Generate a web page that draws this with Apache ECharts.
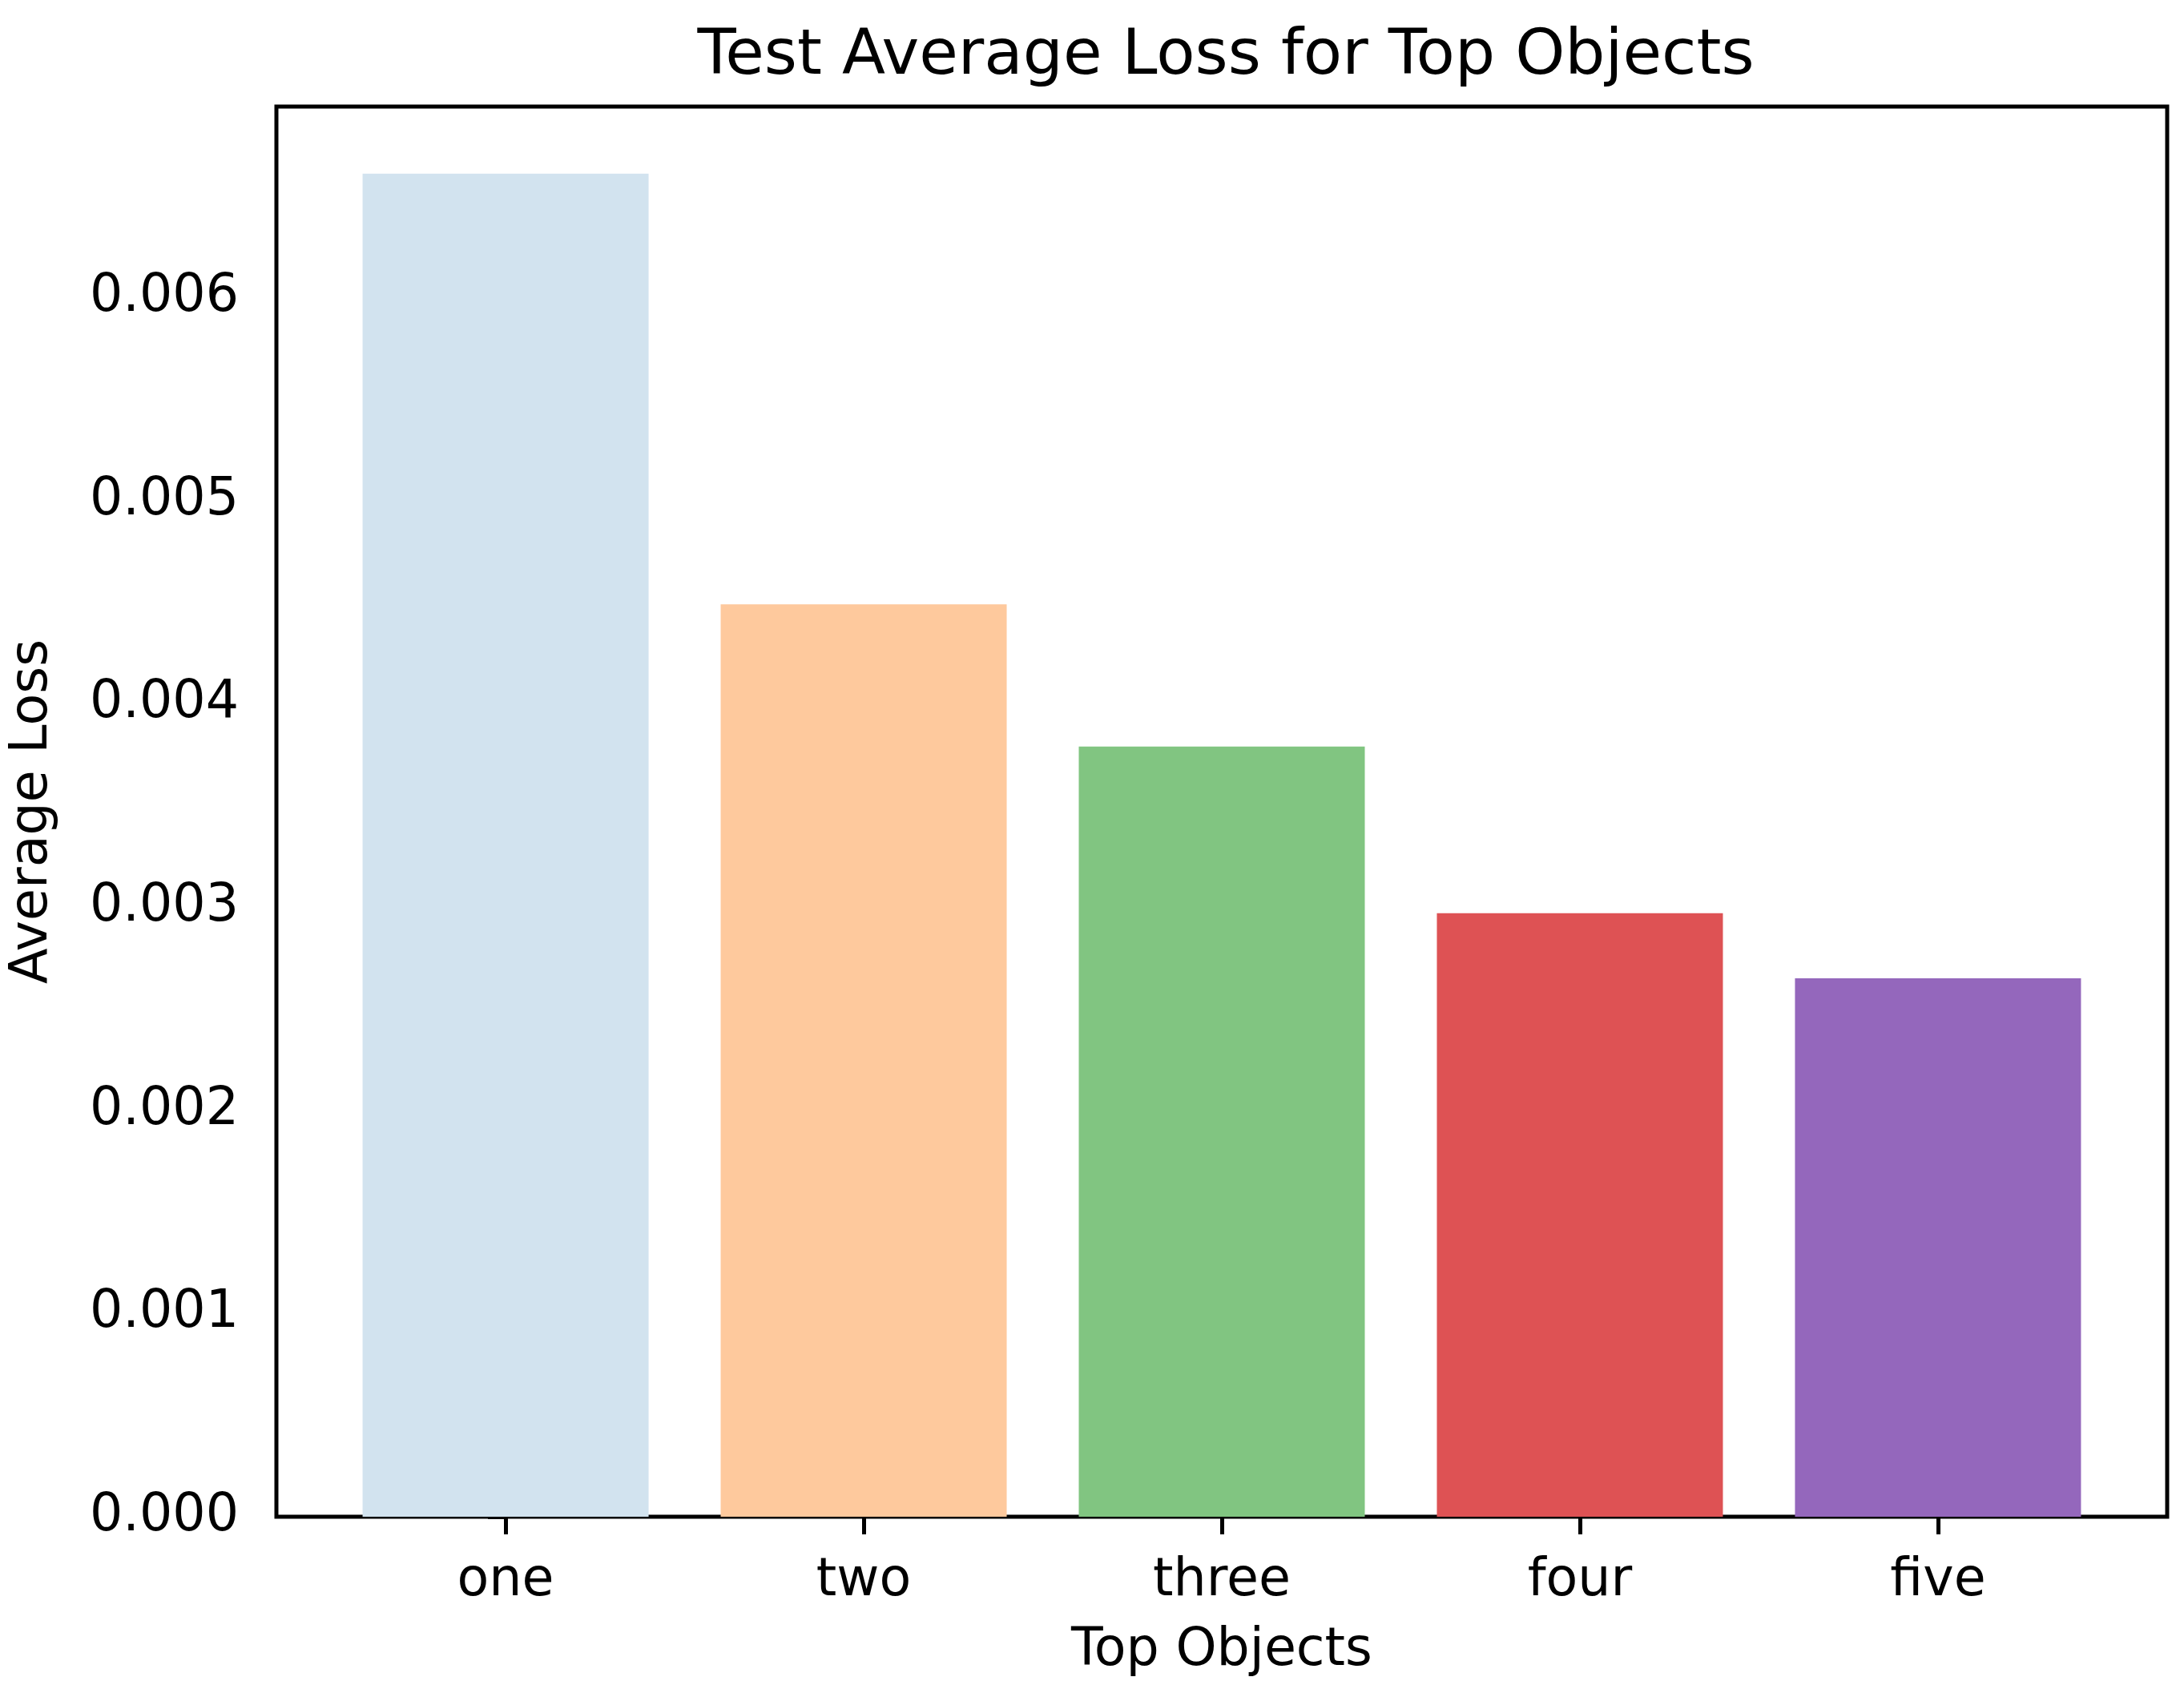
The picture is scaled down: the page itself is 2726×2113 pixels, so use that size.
<!DOCTYPE html>
<html>
<head>
<meta charset="utf-8">
<script src="https://cdn.jsdelivr.net/npm/echarts@6/dist/echarts.min.js"></script>
<style>
html,body{margin:0;padding:0;background:#fff;}
#chart{width:2726px;height:2113px;}
</style>
</head>
<body>
<div id="chart"></div>
<script>
const categories = ['one', 'two', 'three', 'four', 'five'];
const lossValues = [0.00661, 0.00449, 0.00379, 0.00297, 0.00265];
const barColors = ['#d2e3ef', '#fec99d', '#81c581', '#de5254', '#9467bc'];
const yTicks = [0, 0.001, 0.002, 0.003, 0.004, 0.005, 0.006];
const xTicks = [0, 1, 2, 3, 4];

const FONT = 'DejaVu Sans';
const chart = echarts.init(document.getElementById('chart'), null, {renderer: 'canvas'});

const option = {
  backgroundColor: '#ffffff',
  animation: false,
  title: {
    text: 'Test Average Loss for Top Objects',
    left: 1525,
    top: 27,
    textAlign: 'center',
    textStyle: {fontFamily: FONT, fontSize: 79, fontWeight: 'normal', color: '#000'}
  },
  grid: {
    left: 345, right: 21, top: 133, bottom: 220,
    show: true, borderColor: '#000', borderWidth: 5, backgroundColor: 'transparent'
  },
  xAxis: {
    type: 'value',
    min: -0.64, max: 4.64,
    name: 'Top Objects',
    nameLocation: 'middle',
    nameGap: 136,
    nameTextStyle: {fontFamily: FONT, fontSize: 65, color: '#000'},
    axisLine: {show: false},
    splitLine: {show: false},
    axisTick: {show: true, customValues: xTicks, length: 22, lineStyle: {color: '#000', width: 5}},
    axisLabel: {
      customValues: xTicks,
      margin: 49,
      fontFamily: FONT, fontSize: 65, color: '#000',
      formatter: v => categories[Math.round(v)] || ''
    }
  },
  yAxis: {
    type: 'value',
    min: 0, max: 0.00694,
    name: 'Average Loss',
    nameLocation: 'middle',
    nameGap: 271,
    nameTextStyle: {fontFamily: FONT, fontSize: 65, color: '#000'},
    axisLine: {show: false},
    splitLine: {show: false},
    axisTick: {show: true, customValues: yTicks, length: 22, lineStyle: {color: '#000', width: 5}},
    axisLabel: {
      customValues: yTicks,
      margin: 47,
      fontFamily: FONT, fontSize: 65, color: '#000',
      formatter: v => v.toFixed(3)
    }
  },
  series: [{
    type: 'bar',
    barWidth: 357,
    data: lossValues.map((v, i) => ({value: [i, v], itemStyle: {color: barColors[i]}}))
  }]
};
chart.setOption(option);
</script>
</body>
</html>
